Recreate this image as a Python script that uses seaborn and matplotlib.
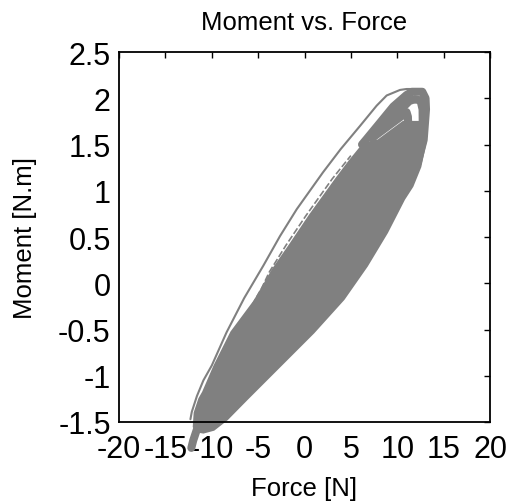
import matplotlib
matplotlib.use("Agg")
import matplotlib.pyplot as plt
import seaborn as sns
import pandas as pd

# ---- data (Force [N], Moment [N.m]) ----
thin_force = [-12.3, -12.15, -11.6, -10.9, -10.0, -8.4, -6.5, -4.44, -2.64, -0.84,
              2.0, 3.9, 5.98, 7.78, 8.86, 10.3, 11.0, 11.5]
thin_moment = [-1.47, -1.39, -1.22, -1.05, -0.89, -0.53, -0.16, 0.19, 0.51, 0.80,
               1.20, 1.45, 1.70, 1.92, 2.03, 2.09, 2.10, 2.10]

inner_thin_force = [-7.6, -6.0, -4.6, -3.8, -2.0, 0.15, 3.0, 5.0]
inner_thin_moment = [-0.58, -0.30, -0.05, 0.12, 0.41, 0.73, 1.13, 1.38]

core_force = [-11.9, -11.8, -11.3, -10.9, -9.65, -7.85, -5.4, -4.8, -3.36, -1.56,
              0.59, 3.47, 4.9, 6.2, 7.3,
              7.96, 9.3, 10.65, 11.2, 11.6, 12.3, 12.7,
              13.0, 12.45, 11.6, 10.7, 8.86, 6.7, 4.19, 0.95, -2.64, -6.23,
              -8.39, -9.8, -10.9, -11.5]
core_moment = [-1.55, -1.40, -1.25, -1.18, -0.89, -0.53, -0.20, -0.10, 0.15, 0.41,
               0.73, 1.13, 1.32, 1.48, 1.53,
               1.54, 1.64, 1.74, 1.76, 1.74, 1.74, 1.60,
               1.52, 1.26, 1.05, 0.91, 0.55, 0.19, -0.17, -0.53, -0.89, -1.25,
               -1.47, -1.58, -1.61, -1.60]

loop_outer_force = [6.2, 6.7, 8.14, 9.57, 11.0, 11.6, 12.7, 13.05, 13.1, 12.85, 12.2]
loop_outer_moment = [1.50, 1.56, 1.735, 1.91, 2.035, 2.07, 2.07, 2.0, 1.88, 1.55, 1.30]

loop_mid_force = [8.0, 9.3, 10.65, 11.3, 11.9, 12.3]
loop_mid_moment = [1.68, 1.80, 1.905, 1.97, 1.99, 1.98]

loop_inner_force = [7.3, 7.96, 9.3, 10.65, 11.0, 11.15, 11.2, 11.1]
loop_inner_moment = [1.57, 1.62, 1.72, 1.82, 1.85, 1.80, 1.65, 1.50]

loop_right_force = [12.5, 12.73, 12.75, 12.6]
loop_right_moment = [1.98, 1.88, 1.70, 1.50]

tail_force = [-11.5, -12.0, -12.2]
tail_moment = [-1.55, -1.70, -1.78]

xticks = [-20, -15, -10, -5, 0, 5, 10, 15, 20]
xticklabels = ["-20", "-15", "-10", "-5", "0", "5", "10", "15", "20"]
yticks = [-1.5, -1, -0.5, 0, 0.5, 1, 1.5, 2, 2.5]
yticklabels = ["-1.5", "-1", "-0.5", "0", "0.5", "1", "1.5", "2", "2.5"]

GRAY = "#808080"

sns.set_theme(style="white")
plt.rcParams["font.family"] = ["Liberation Sans", "DejaVu Sans"]
plt.rcParams["axes.unicode_minus"] = False
plt.rcParams["text.color"] = "black"
plt.rcParams["axes.labelcolor"] = "black"
plt.rcParams["xtick.color"] = "black"
plt.rcParams["ytick.color"] = "black"

fig = plt.figure(figsize=(5.13, 5.02), dpi=100)
ax = fig.add_axes([119 / 513, 79 / 502, 371 / 513, 370 / 502])

# filled core of the loops
ax.fill(core_force, core_moment, color=GRAY, lw=2, ec=GRAY, clip_on=False, zorder=2)

thick = 5.8
for fx, my in [(loop_outer_force, loop_outer_moment),
               (loop_mid_force, loop_mid_moment),
               (loop_inner_force, loop_inner_moment),
               (loop_right_force, loop_right_moment),
               (tail_force, tail_moment)]:
    d = pd.DataFrame({"f": fx, "m": my})
    sns.lineplot(data=d, x="f", y="m", sort=False, estimator=None, ax=ax,
                 color=GRAY, lw=thick, solid_capstyle="round",
                 solid_joinstyle="round", clip_on=False, zorder=3)

for fx, my, w, ls in [(thin_force, thin_moment, 1.5, "-"),
                      (inner_thin_force, inner_thin_moment, 1.2, (0, (4, 1.5)))]:
    d = pd.DataFrame({"f": fx, "m": my})
    sns.lineplot(data=d, x="f", y="m", sort=False, estimator=None, ax=ax,
                 color=GRAY, lw=w, linestyle=ls, clip_on=False, zorder=3)

ax.set_xlim(-20, 20)
ax.set_ylim(-1.5, 2.5)
ax.set_xticks(xticks)
ax.set_xticklabels(xticklabels)
ax.set_yticks(yticks)
ax.set_yticklabels(yticklabels)
ax.tick_params(direction="in", length=4, width=1, top=True, right=True,
               labelsize=22, colors="black")
ax.tick_params(axis="x", pad=9)
ax.tick_params(axis="y", pad=6)
for s in ax.spines.values():
    s.set_color("black")
    s.set_linewidth(1.3)
    s.set_zorder(5)

ax.set_title("Moment vs. Force", fontsize=18.5, pad=16.5)
ax.set_xlabel("Force [N]", fontsize=18.5, labelpad=8)
ax.set_ylabel("Moment [N.m]", fontsize=18.5, labelpad=15)

fig.savefig("out.png", dpi=100, facecolor="white")
